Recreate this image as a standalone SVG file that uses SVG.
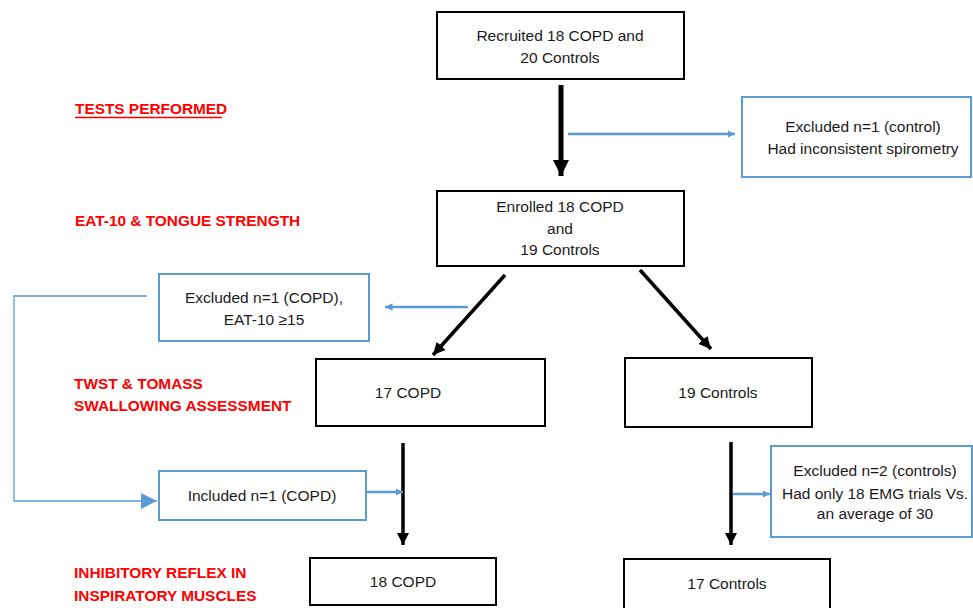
<svg xmlns="http://www.w3.org/2000/svg" width="973" height="608" viewBox="0 0 973 608">
<defs>
<style>
.bk{fill:#fff;stroke:#000;stroke-width:2}
.bl{fill:#fff;stroke:#5B9BD5;stroke-width:2}
.t{font-family:"Liberation Sans",Arial,sans-serif;font-size:15.5px;fill:#1a1a1a;text-anchor:middle}
.r{font-family:"Liberation Sans",Arial,sans-serif;font-size:15.4px;font-weight:bold;fill:#FF0000}
.ca{stroke:#000;fill:none}
.cb{stroke:#5B9BD5;fill:none}
</style>
<marker id="ab" viewBox="0 0 10 10" refX="10" refY="5" markerWidth="3.3" markerHeight="3.3" orient="auto" markerUnits="strokeWidth"><path d="M0,0L10,5L0,10z" fill="#000"/></marker>
<marker id="abt" viewBox="0 0 10 10" refX="10" refY="5" markerWidth="3.5" markerHeight="3.5" orient="auto" markerUnits="strokeWidth"><path d="M0,0L10,5L0,10z" fill="#000"/></marker>
<marker id="ub" viewBox="0 0 10 10" refX="10" refY="5" markerWidth="3" markerHeight="3" orient="auto" markerUnits="strokeWidth"><path d="M0,0L10,5L0,10z" fill="#5B9BD5"/></marker>
<marker id="ubt" viewBox="0 0 10 10" refX="10" refY="5" markerWidth="16" markerHeight="16" orient="auto" markerUnits="userSpaceOnUse"><path d="M0,0L10,5L0,10z" fill="#5B9BD5"/></marker>
</defs>
<g id="labels">
<text class="r" x="75" y="114">TESTS PERFORMED</text>
<line x1="75" y1="117.5" x2="222" y2="117.5" stroke="#FF0000" stroke-width="1.5"/>
<text class="r" x="75" y="226">EAT-10 &amp; TONGUE STRENGTH</text>
<text class="r" x="74" y="389">TWST &amp; TOMASS</text>
<text class="r" x="74" y="411">SWALLOWING ASSESSMENT</text>
<text class="r" x="74" y="578">INHIBITORY REFLEX IN</text>
<text class="r" x="74" y="601">INSPIRATORY MUSCLES</text>
</g>
<g id="connectors">
<line class="ca" x1="561" y1="85" x2="561" y2="176" stroke-width="5" marker-end="url(#ab)"/>
<line class="cb" x1="568" y1="134" x2="735" y2="134" stroke-width="2.5" marker-end="url(#ub)"/>
<line class="ca" x1="505" y1="275" x2="433" y2="355" stroke-width="3.5" marker-end="url(#abt)"/>
<line class="ca" x1="640" y1="270" x2="711" y2="349" stroke-width="3.5" marker-end="url(#abt)"/>
<line class="cb" x1="468" y1="307" x2="385" y2="307" stroke-width="2.5" marker-end="url(#ub)"/>
<polyline class="cb" points="147,296 14,296 14,501 157,501" stroke-width="1.3" marker-end="url(#ubt)"/>
<line class="ca" x1="403" y1="443" x2="403" y2="545" stroke-width="3.5" marker-end="url(#abt)"/>
<line class="cb" x1="366" y1="492" x2="403" y2="492" stroke-width="2.5" marker-end="url(#ub)"/>
<line class="ca" x1="731" y1="442" x2="731" y2="545" stroke-width="3.5" marker-end="url(#abt)"/>
<line class="cb" x1="733" y1="494" x2="770" y2="494" stroke-width="2.5" marker-end="url(#ub)"/>
</g>
<g id="n-recruited"><rect class="bk" x="437" y="12" width="247" height="67"/>
<text class="t" x="560" y="41">Recruited 18 COPD and</text><text class="t" x="560" y="63">20 Controls</text></g>
<g id="n-excl1"><rect class="bl" x="742" y="97" width="229" height="80"/>
<text class="t" x="863" y="132">Excluded n=1 (control)</text><text class="t" x="863" y="154">Had inconsistent spirometry</text></g>
<g id="n-enrolled"><rect class="bk" x="437" y="191" width="247" height="75"/>
<text class="t" x="560" y="212">Enrolled 18 COPD</text><text class="t" x="560" y="234">and</text><text class="t" x="560" y="255">19 Controls</text></g>
<g id="n-excl2"><rect class="bl" x="159" y="274" width="210" height="67"/>
<text class="t" x="264" y="303">Excluded n=1 (COPD),</text><text class="t" x="264" y="325">EAT-10 ≥15</text></g>
<g id="n-17copd"><rect class="bk" x="316" y="359" width="229" height="67"/>
<text class="t" x="408" y="398">17 COPD</text></g>
<g id="n-19ctrl"><rect class="bk" x="625" y="358" width="187" height="69"/>
<text class="t" x="718" y="398">19 Controls</text></g>
<g id="n-incl"><rect class="bl" x="159" y="471" width="207" height="49"/>
<text class="t" x="262" y="501">Included n=1 (COPD)</text></g>
<g id="n-excl3"><rect class="bl" x="771" y="446" width="201" height="91"/>
<text class="t" x="875" y="476">Excluded n=2 (controls)</text><text class="t" x="875" y="499">Had only 18 EMG trials Vs.</text><text class="t" x="875" y="519">an average of 30</text></g>
<g id="n-18copd"><rect class="bk" x="310" y="558" width="186" height="47"/>
<text class="t" x="403" y="587">18 COPD</text></g>
<g id="n-17ctrl"><rect class="bk" x="624" y="559" width="206" height="52"/>
<text class="t" x="727" y="589">17 Controls</text></g>
</svg>
